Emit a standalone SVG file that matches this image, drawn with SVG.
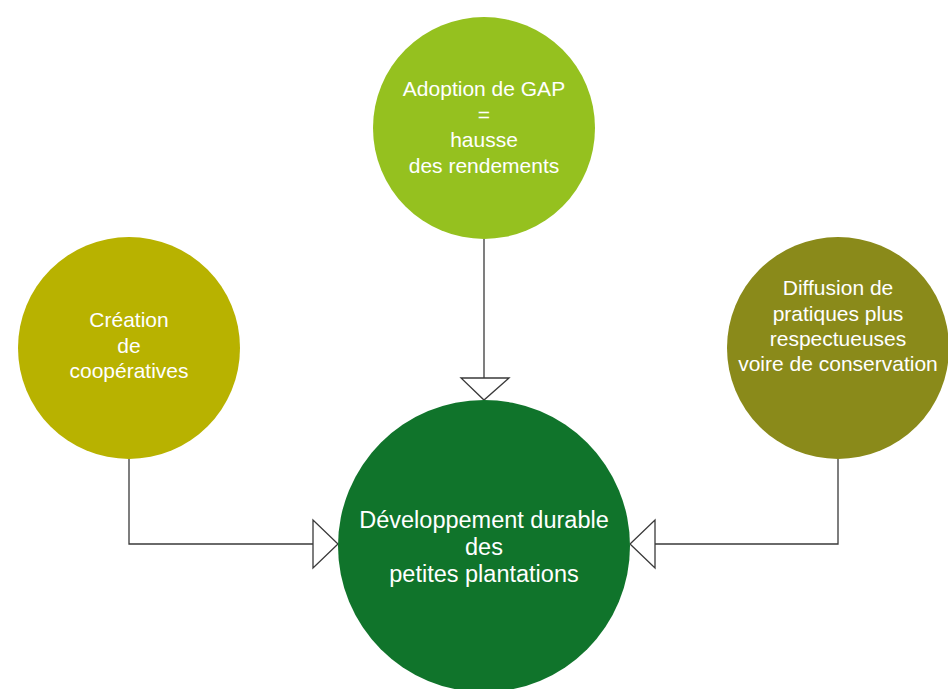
<svg xmlns="http://www.w3.org/2000/svg" width="948" height="689" viewBox="0 0 948 689">
<style>
.t{font-family:"Liberation Sans",Arial,sans-serif;fill:#ffffff;text-anchor:middle;font-size:21px}
.tb{font-size:23.5px}
.c{fill:none;stroke:#3a3a3a;stroke-width:1.3}
.h{fill:#ffffff;stroke:#3a3a3a;stroke-width:1.3}
</style>
<rect width="948" height="689" fill="#ffffff"/>
<g id="connectors">
<path class="c" d="M484,239 V378"/>
<polygon class="h" points="461,378 509,378 484,400"/>
<path class="c" d="M129,459 V544 H313"/>
<polygon class="h" points="313,520 313,568 338,544"/>
<path class="c" d="M838,459 V544 H655"/>
<polygon class="h" points="655,520 655,568 630,544"/>
</g>
<g id="node-gap">
<circle cx="484" cy="128" r="111" fill="#95c11f"/>
<text class="t" x="484" y="96">Adoption de GAP</text>
<text class="t" x="484" y="121.5">=</text>
<text class="t" x="484" y="147">hausse</text>
<text class="t" x="484" y="172.5">des rendements</text>
</g>
<g id="node-coop">
<circle cx="129" cy="348" r="111" fill="#b8b200"/>
<text class="t" x="129" y="327">Création</text>
<text class="t" x="129" y="352.5">de</text>
<text class="t" x="129" y="378">coopératives</text>
</g>
<g id="node-diffusion">
<circle cx="838" cy="348" r="111" fill="#8a8a1a"/>
<text class="t" x="838" y="295">Diffusion de</text>
<text class="t" x="838" y="320.5">pratiques plus</text>
<text class="t" x="838" y="346">respectueuses</text>
<text class="t" x="838" y="371">voire de conservation</text>
</g>
<g id="node-dev">
<circle cx="484" cy="546" r="146" fill="#10742b"/>
<text class="t tb" x="484" y="527.5">Développement durable</text>
<text class="t tb" x="484" y="554.5">des</text>
<text class="t tb" x="484" y="581.5">petites plantations</text>
</g>
</svg>
